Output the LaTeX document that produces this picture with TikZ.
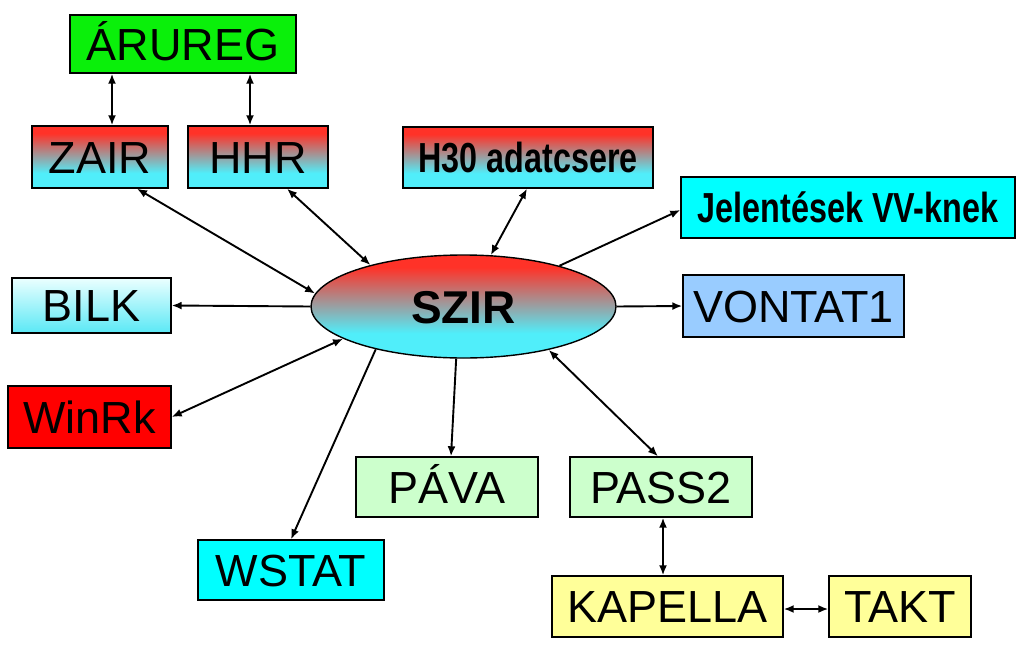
\documentclass[tikz,border=0pt]{standalone}
\usepackage{fontspec}
\setmainfont{Liberation Sans}
\newfontfamily\narrowb[FakeStretch=0.77]{Liberation Sans}
\usetikzlibrary{arrows.meta,shapes.geometric}
\definecolor{rd}{RGB}{255,50,40}
\definecolor{cyn}{RGB}{80,238,250}
\definecolor{grn}{RGB}{10,240,10}
\definecolor{cya}{RGB}{0,255,255}
\definecolor{red2}{RGB}{255,0,0}
\definecolor{lblue}{RGB}{153,204,255}
\definecolor{lgreen}{RGB}{204,255,204}
\definecolor{lyellow}{RGB}{255,255,153}
\definecolor{bilktop}{RGB}{235,255,255}
\definecolor{bilkbot}{RGB}{90,232,245}
\pgfdeclareverticalshading{redcyan}{100bp}{color(0bp)=(cyn); color(37bp)=(cyn); color(69bp)=(rd); color(100bp)=(rd)}
\begin{document}
\begin{tikzpicture}[x=1pt,y=-1pt,
  box/.style={draw=black, line width=1.4pt, rectangle, inner sep=0pt,
    font=\fontsize{45}{48}\selectfont, text height=32.2pt, text depth=0pt},
  bbox/.style={box, font=\narrowb\bfseries\fontsize{42}{44}\selectfont, text height=30pt},
  acc/.style={text depth=-5pt},
  grad/.style={shading=redcyan},
  arr/.style={line width=1.9pt, {Latex[length=10pt,width=8pt]}-{Latex[length=10pt,width=8pt]}},
  one/.style={line width=1.9pt, -{Latex[length=10pt,width=8pt]}}
]
\useasboundingbox (0,0) rectangle (1024,647);
\fill[white] (0,0) rectangle (1024,647);

\node[box, acc, fill=grn, minimum width=226pt, minimum height=58pt] (arureg) at (183,44) {ÁRUREG};
\node[box, grad, minimum width=136pt, minimum height=62pt] (zair) at (100,157) {ZAIR};
\node[box, grad, minimum width=140pt, minimum height=62pt] (hhr) at (258,157) {HHR};
\node[bbox, grad, minimum width=250pt, minimum height=61pt] (h30) at (528,157.5) {H30 adatcsere};
\node[bbox, fill=cya, minimum width=334pt, minimum height=61pt] (jel) at (848,207.5) {Jelentések VV-knek};
\node[box, top color=bilktop, bottom color=bilkbot, minimum width=159pt, minimum height=55pt] (bilk) at (91.5,305.5) {BILK};
\node[box, fill=lblue, minimum width=221pt, minimum height=62pt] (vontat) at (793.5,306) {VONTAT1};
\node[box, fill=red2, minimum width=163pt, minimum height=62pt] (winrk) at (89.5,417) {WinRk};
\node[ellipse, draw=black, line width=1.4pt, grad, inner sep=0pt,
  minimum width=305pt, minimum height=103pt,
  font=\bfseries\fontsize{46}{48}\selectfont, text height=33pt, text depth=0pt] (szir) at (463.5,306.5) {SZIR};
\node[box, acc, fill=lgreen, minimum width=182pt, minimum height=60pt] (pava) at (447,487) {PÁVA};
\node[box, fill=lgreen, minimum width=182pt, minimum height=60pt] (pass2) at (661,487) {PASS2};
\node[box, fill=cya, minimum width=186pt, minimum height=60pt] (wstat) at (291,570) {WSTAT};
\node[box, fill=lyellow, minimum width=231pt, minimum height=61pt] (kapella) at (667.5,606.5) {KAPELLA};
\node[box, fill=lyellow, minimum width=142pt, minimum height=61pt] (takt) at (900,606.5) {TAKT};

\coordinate (za) at ([xshift=12pt]zair.north);
\coordinate (ha) at ([xshift=-8pt]hhr.north);
\draw[arr] (za) -- (za |- arureg.south);
\draw[arr] (ha) -- (ha |- arureg.south);

\draw[arr] ([xshift=37pt]zair.south) -- (szir.175.6);
\draw[arr] ([xshift=29pt]hhr.south) -- (szir.156.7);
\draw[arr] ([xshift=-1pt]h30.south) -- (szir.62.8);
\draw[one] (szir.23.3) -- ([yshift=-2.5pt]jel.west);
\draw[one] (szir.0) -- (vontat.west);
\draw[one] (szir.180) -- (bilk.east);
\draw[arr] (winrk.east) -- (szir.195);
\draw[one] (szir.206) -- (wstat.north);
\draw[one] (szir.262.8) -- ([xshift=4pt]pava.north);
\draw[arr] (szir.333.6) -- ([xshift=-3pt]pass2.north);

\coordinate (pk) at ([xshift=2pt]pass2.south);
\draw[arr] (pk) -- (pk |- kapella.north);
\coordinate (kt) at ([yshift=-2.5pt]kapella.east);
\draw[arr] (kt) -- (kt -| takt.west);
\end{tikzpicture}
\end{document}
